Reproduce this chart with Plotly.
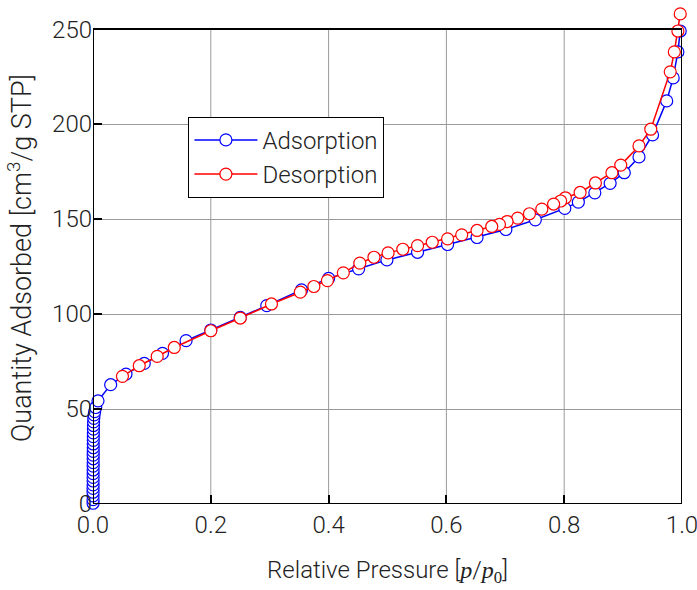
import plotly.graph_objects as go

ads_x = [0.0001, 0.0001, 0.0001, 0.0001, 0.0001, 0.0002, 0.0002, 0.0002, 0.0002, 0.0002,
         0.0003, 0.0003, 0.0003, 0.0003, 0.0004, 0.0004, 0.0004, 0.0005, 0.0005, 0.0006,
         0.0007, 0.0008, 0.0010, 0.0013, 0.0018, 0.0028, 0.0046, 0.0085,
         0.030, 0.056, 0.087, 0.118, 0.158, 0.200, 0.250, 0.295, 0.354, 0.400, 0.451, 0.499,
         0.551, 0.602, 0.652, 0.701, 0.751, 0.801, 0.824, 0.852, 0.878, 0.902, 0.927, 0.950,
         0.974, 0.985, 0.993, 0.997]
ads_y = [0.4, 2.3, 4.3, 6.2, 8.2, 10.1, 12.1, 14.0, 16.0, 17.9,
         19.9, 21.8, 23.8, 25.7, 27.7, 29.6, 31.6, 33.5, 35.5, 37.4,
         39.4, 41.3, 43.2, 45.1, 46.9, 48.6, 50.8, 54.3,
         62.8, 68.4, 74.0, 79.3, 86.0, 91.6, 98.2, 104.4, 112.7, 118.8, 123.8, 128.5,
         132.5, 136.6, 140.3, 144.5, 149.6, 155.6, 158.9, 163.8, 168.8, 174.4, 182.7, 194.3,
         212.2, 224.3, 238.0, 249.0]

des_x = [0.997, 0.993, 0.987, 0.980, 0.947, 0.927, 0.896, 0.881, 0.853, 0.827,
         0.802, 0.794, 0.782, 0.762, 0.741, 0.721, 0.703, 0.690, 0.677, 0.652,
         0.626, 0.602, 0.576, 0.551, 0.526, 0.501, 0.477, 0.453, 0.425, 0.398,
         0.375, 0.352, 0.303, 0.250, 0.200, 0.138, 0.109, 0.0785, 0.050]
des_y = [258.0, 249.0, 238.0, 227.5, 197.3, 188.5, 178.4, 174.4, 169.0, 164.0,
         161.2, 159.5, 157.9, 155.2, 152.8, 150.5, 148.7, 147.2, 146.1, 144.0,
         141.7, 139.6, 137.8, 136.0, 134.1, 132.2, 129.9, 126.8, 121.7, 117.6,
         114.5, 111.5, 105.3, 97.9, 91.2, 82.4, 77.7, 72.8, 67.2]

x_ticks = [0.0, 0.2, 0.4, 0.6, 0.8, 1.0]
x_tick_labels = ["0.0", "0.2", "0.4", "0.6", "0.8", "1.0"]
x_grid = [0.2, 0.4, 0.6, 0.8]
y_ticks = [0, 50, 100, 150, 200, 250]
x_range = [0, 1]
y_frame = [0, 250]
y_range = [0, 259]

FONT = "Roboto"
TXT = "#222222"
GRID = "#9a9a9a"

fig = go.Figure()
fig.add_trace(go.Scatter(
    x=ads_x, y=ads_y, name="Adsorption", mode="lines+markers", legendgroup="a",
    line=dict(color="#0000ff", width=1.5),
    marker=dict(symbol="circle", size=12, color="white", line=dict(color="#0000ff", width=1.2)),
    cliponaxis=False,
))
fig.add_trace(go.Scatter(
    x=des_x, y=des_y, name="Desorption", mode="lines+markers", legendgroup="d",
    line=dict(color="#ff0000", width=1.5),
    marker=dict(symbol="circle", size=12, color="white", line=dict(color="#ff0000", width=1.2)),
    cliponaxis=False,
))

# vertical grid lines limited to the framed region
for gx in x_grid:
    fig.add_shape(type="line", xref="x", yref="y", x0=gx, x1=gx, y0=y_frame[0], y1=y_frame[1],
                  line=dict(color=GRID, width=1), layer="below")
# frame
fig.add_shape(type="rect", xref="x", yref="y", x0=x_range[0], x1=x_range[1],
              y0=y_frame[0], y1=y_frame[1], line=dict(color="black", width=2), layer="above")

tickfont = dict(family=FONT, size=24, color=TXT, weight=300)

fig.update_layout(
    width=697, height=590,
    margin=dict(l=93, r=15, t=12, b=86),
    paper_bgcolor="white", plot_bgcolor="white",
    font=dict(family=FONT, color=TXT),
    xaxis=dict(
        range=x_range, tickvals=x_ticks, ticktext=x_tick_labels,
        showline=False, showgrid=False, zeroline=False,
        ticks="inside", ticklen=9, tickwidth=2, tickcolor="black",
        tickfont=tickfont, automargin=False, ticklabelstandoff=4,
        ticklabeloverflow="allow",
        title=dict(text="Relative Pressure [<i><span style='font-family:Liberation Serif'>p</span></i>/<i><span style='font-family:Liberation Serif'>p</span></i><sub><span style='font-family:Liberation Serif'>0</span></sub>]",
                   font=dict(family=FONT, size=24, color=TXT, weight=300), standoff=23),
    ),
    yaxis=dict(
        range=y_range, tickvals=y_ticks,
        showline=False, showgrid=True, gridcolor=GRID, gridwidth=1, zeroline=False,
        ticks="inside", ticklen=9, tickwidth=2, tickcolor="black",
        tickfont=tickfont, automargin=False, ticklabeloverflow="allow",
        title=dict(text="Quantity Adsorbed [cm<sup>3</sup>/g STP]",
                   font=dict(family=FONT, size=27, color=TXT, weight=300), standoff=12),
    ),
    legend=dict(
        x=0.162, y=0.787, xanchor="left", yanchor="top",
        bgcolor="white", bordercolor="black", borderwidth=1,
        font=dict(family=FONT, size=24, color=TXT, weight=300),
        itemwidth=63, tracegroupgap=0, traceorder="grouped",
    ),
    showlegend=True,
)

fig.write_html("out.html", config={"displayModeBar": False},
               post_script="document.body.style.margin='0px';document.body.style.overflow='hidden';")
